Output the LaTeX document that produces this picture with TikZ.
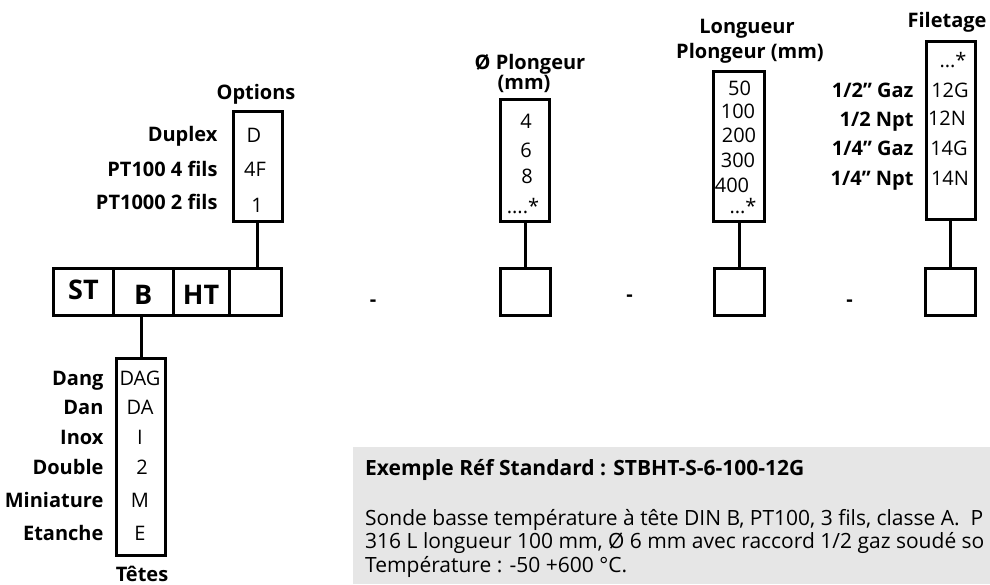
\documentclass[tikz,border=0pt]{standalone}
\usepackage{fontspec}
\setmainfont{Open Sans}
\definecolor{notegray}{HTML}{E6E6E6}
\tikzset{
  frame/.style={draw, line width=3pt, inner sep=0pt},
  cell/.style={frame, minimum height=47pt, font=\bfseries\fontsize{27}{30}\selectfont},
  link/.style={line width=3pt},
  title/.style={anchor=base, font=\bfseries\fontsize{20}{24}\selectfont},
  lab/.style={anchor=base east, font=\bfseries\fontsize{20}{24}\selectfont},
  val/.style={anchor=base, font=\fontsize{20}{22}\selectfont},
  sep/.style={anchor=base, font=\bfseries\fontsize{20}{24}\selectfont},
  notetext/.style={anchor=base west, inner sep=0pt, font=\fontsize{21}{23.5}\selectfont},
}
\begin{document}
\begin{tikzpicture}[x=1pt,y=-1pt]
\useasboundingbox (0,0) rectangle (990,584);
% grey note panel
\fill[notegray] (353,447) rectangle (990,584);
\begin{scope}
\clip (353,447) rectangle (990,584);
\node[notetext, font=\bfseries\fontsize{21}{23.5}\selectfont] (notehead) at (365,475) {Exemple Réf Standard : STBHT-S-6-100-12G};
\node[notetext] (noteone) at (365,525) {Sonde basse température à tête DIN B, PT100, 3 fils, classe A.\ \ P};
\node[notetext] (notetwo) at (365,548.5) {316 L longueur 100 mm, Ø 6 mm avec raccord 1/2 gaz soudé so};
\node[notetext] (notethree) at (365,572) {Température : -50 +600 °C.};
\end{scope}

% reference cells
\node[cell, minimum width=60pt, text height=20pt, text depth=5pt] (st) at (83.5,291.5) {ST};
\node[cell, minimum width=59.5pt, text height=25pt, text depth=0pt] (b) at (143.25,291.5) {B};
\node[cell, minimum width=56pt, text height=25pt, text depth=0pt] (ht) at (201,291.5) {HT};
\node[cell, minimum width=52.5pt] (opt) at (255.25,291.5) {};
\node[cell, minimum width=50pt] (dia) at (525,291.5) {};
\node[cell, minimum width=50pt] (len) at (739,291.5) {};
\node[cell, minimum width=50pt] (thr) at (950.5,291.5) {};
\node[sep] (dashone) at (373,306) {-};
\node[sep] (dashtwo) at (629.5,301.5) {-};
\node[sep] (dashthree) at (849.5,306.5) {-};

% options
\node[frame, minimum width=49pt, minimum height=109.5pt] (optlist) at (257.5,166.25) {};
\draw[link] (optlist.south) -- (optlist.south |- opt.north);
\node[title] (opttitle) at (256,99) {Options};
\node[lab] (duplex) at (221,141) {Duplex};
\node[lab] (fourwire) at (221,176) {PT100 4 fils};
\node[lab] (twowire) at (221,209) {PT1000 2 fils};
\node[val] (duplexv) at (254,142) {D};
\node[val] (fourwirev) at (255,176) {4F};
\node[val] (twowirev) at (257,212) {1};

% heads
\node[frame, minimum width=49pt, minimum height=197pt] (heads) at (141,456.5) {};
\draw[link] (heads.north) -- (heads.north |- b.south);
\node[title] (headstitle) at (142,581) {Têtes};
\foreach \name/\code/\yy/\xx in {Dang/DAG/385/140, Dan/DA/414/140, Inox/I/444/140,
    Double/2/474/142, Miniature/M/507/140, Etanche/E/540/140} {
  \node[lab] (h\code) at (107,\yy) {\name};
  \node[val] (v\code) at (\xx,\yy) {\code};
}

% probe diameter
\node[frame, minimum width=49pt, minimum height=122pt] (dialist) at (525,160.5) {};
\draw[link] (dialist.south) -- (dia.north);
\node[title] (diatitle) at (530,69) {Ø Plongeur};
\node[title] (diaunit) at (524,89) {(mm)};
\node[val] (diafour) at (526,128) {4};
\node[val] (diasix) at (526,157) {6};
\node[val] (diaeight) at (527,183) {8};
\node[val] (diamore) at (523,213) {....*};

% probe length
\node[frame, minimum width=50.5pt, minimum height=150pt] (lenlist) at (739,146) {};
\draw[link] (lenlist.south) -- (len.north);
\node[title] (lentitle) at (747,33) {Longueur};
\node[title] (lenunit) at (750,58) {Plongeur (mm)};
\foreach \v/\xx/\yy in {50/739.5/95, 100/738/118, 200/739/142, 300/738/167, 400/732/192} {
  \node[val] (len\v) at (\xx,\yy) {\v};
}
\node[val] (lenmore) at (743,213) {...*};

% thread
\node[frame, minimum width=49pt, minimum height=178pt] (thrlist) at (950.5,130) {};
\draw[link] (thrlist.south) -- (thr.north);
\node[title] (thrtitle) at (947,27) {Filetage};
\node[val] (thrmore) at (953,67) {...*};
\node[lab] (halfgaz) at (917,97) {1/2" Gaz};
\node[lab] (halfnpt) at (917,126) {1/2 Npt};
\node[lab] (quartgaz) at (917,155) {1/4" Gaz};
\node[lab] (quartnpt) at (917,185) {1/4" Npt};
\node[val] (halfgazv) at (950,97) {12G};
\node[val] (halfnptv) at (947,125) {12N};
\node[val] (quartgazv) at (949,155) {14G};
\node[val] (quartnptv) at (950,185) {14N};
\end{tikzpicture}
\end{document}
